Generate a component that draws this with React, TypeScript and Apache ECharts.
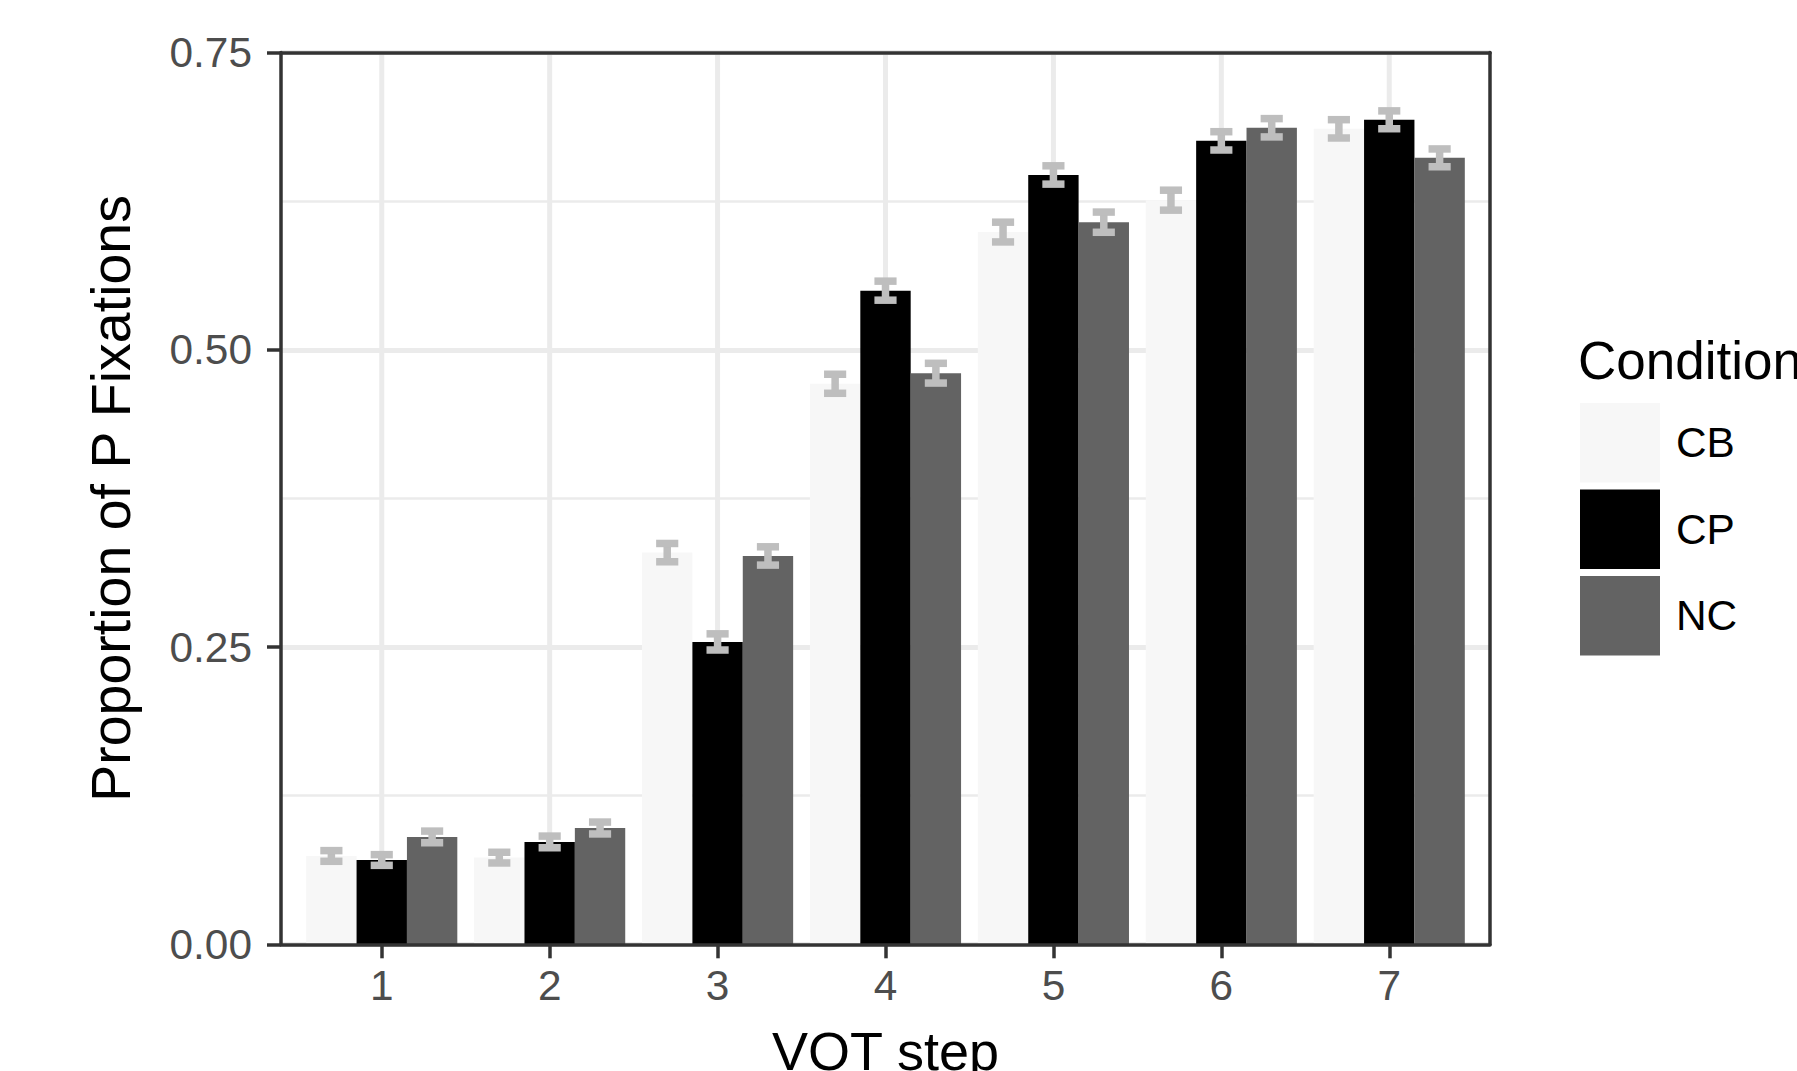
import React, { useEffect, useRef } from "react";
import * as echarts from "echarts";

const steps = [1, 2, 3, 4, 5, 6, 7];
const conditions = ["CB", "CP", "NC"];
const cbMean = [0.0743, 0.0729, 0.3294, 0.4714, 0.599, 0.6258, 0.6858];
const cpMean = [0.0709, 0.0861, 0.2543, 0.5497, 0.647, 0.6757, 0.6934];
const ncMean = [0.0903, 0.0978, 0.3266, 0.4803, 0.6073, 0.6867, 0.6614];
const cbSE = [0.0045, 0.0045, 0.0077, 0.008, 0.0083, 0.0084, 0.0077];
const cpSE = [0.0045, 0.0049, 0.0068, 0.008, 0.0077, 0.0077, 0.0075];
const ncSE = [0.0049, 0.005, 0.0077, 0.0083, 0.0085, 0.0077, 0.0075];
const yTicks = [0, 0.25, 0.5, 0.75];

const FONT = '"Liberation Sans", Arial, Helvetica, sans-serif';
const barColors = ["#f7f7f7", "#000000", "#636363"];
const errColor = "#bebebe";
const dodge = 0.3;
const errHalfWidth = 0.066;

function makeBarSeries(name: string, means: number[], ses: number[], idx: number, color: string) {
  return {
    type: "custom",
    name,
    xAxisIndex: 0,
    yAxisIndex: 0,
    z: 3,
    itemStyle: { color },
    encode: { x: 0, y: 1 },
    data: steps.map((s, i) => [s, means[i], ses[i]]),
    renderItem: (params: any, api: any) => {
      const x = api.value(0);
      const v = api.value(1);
      const se = api.value(2);
      const c = x + (idx - 1) * dodge;
      const p0 = api.coord([c - dodge / 2, v]);
      const p1 = api.coord([c + dodge / 2, 0]);
      const cx = api.coord([c, 0])[0];
      const capL = api.coord([c - errHalfWidth, 0])[0];
      const capR = api.coord([c + errHalfWidth, 0])[0];
      const yHi = api.coord([c, v + se])[1];
      const yLo = api.coord([c, v - se])[1];
      const eb = { stroke: errColor, lineWidth: 7.5, lineCap: "butt" };
      return {
        type: "group",
        children: [
          {
            type: "rect",
            shape: { x: p0[0], y: p0[1], width: p1[0] - p0[0], height: p1[1] - p0[1] },
            style: { fill: color },
          },
          { type: "line", shape: { x1: cx, y1: yHi, x2: cx, y2: yLo }, style: eb },
          { type: "line", shape: { x1: capL, y1: yHi, x2: capR, y2: yHi }, style: eb },
          { type: "line", shape: { x1: capL, y1: yLo, x2: capR, y2: yLo }, style: eb },
        ],
      };
    },
  };
}

export default function App() {
  const ref = useRef<HTMLDivElement>(null);
  useEffect(() => {
    if (!ref.current) return;
    const chart = echarts.init(ref.current, undefined, { renderer: "svg" });
    const yMin = yTicks[0];
    const yMax = yTicks[yTicks.length - 1];
    const borderLine = { color: "#333333", width: 3.5 };
    chart.setOption({
      animation: false,
      backgroundColor: "#ffffff",
      textStyle: { fontFamily: FONT },
      grid: {
        left: 281,
        right: 307,
        top: 52.5,
        bottom: 126.7,
        containLabel: false,
        outerBoundsMode: "none",
      },
      legend: {
        orient: "vertical",
        left: 1580,
        top: 403,
        padding: 0,
        itemWidth: 80,
        itemHeight: 79.5,
        itemGap: 7,
        icon: "rect",
        data: conditions,
        selectedMode: false,
        itemStyle: { borderWidth: 0 },
        textStyle: { fontSize: 42.4, color: "#000000", fontFamily: FONT, padding: [0, 0, 0, 11] },
      },
      graphic: [
        {
          type: "text",
          left: 1578,
          top: 334,
          style: { text: "Condition", fontSize: 53, fill: "#000000", fontFamily: FONT },
        },
      ],
      xAxis: [
        {
          type: "value",
          min: 0.4,
          max: 7.6,
          position: "bottom",
          z: 10,
          axisLine: { show: true, onZero: false, lineStyle: borderLine },
          axisTick: { show: true, length: 14, lineStyle: borderLine, customValues: steps },
          axisLabel: {
            show: true,
            customValues: steps,
            fontSize: 42.4,
            color: "#4d4d4d",
            margin: 20,
            fontFamily: FONT,
          },
          splitLine: { show: false },
          name: "VOT step",
          nameLocation: "middle",
          nameGap: 80,
          nameTextStyle: { fontSize: 54, color: "#000000", fontFamily: FONT },
        },
        {
          type: "value",
          min: 0.4,
          max: 7.6,
          position: "top",
          z: 10,
          axisLine: { show: true, onZero: false, lineStyle: borderLine },
          axisTick: { show: false },
          axisLabel: { show: false },
          splitLine: { show: false },
        },
      ],
      yAxis: [
        {
          type: "value",
          min: yMin,
          max: yMax,
          interval: 0.25,
          position: "left",
          z: 0,
          axisLine: { show: false },
          axisTick: { show: false },
          axisLabel: { show: false },
          splitLine: { show: true, lineStyle: { color: "#ebebeb", width: 5 } },
          minorTick: { show: false, splitNumber: 2 },
          minorSplitLine: { show: true, lineStyle: { color: "#ebebeb", width: 2.7 } },
        },
        {
          type: "value",
          min: yMin,
          max: yMax,
          interval: 0.25,
          position: "left",
          z: 10,
          axisLine: { show: true, onZero: false, lineStyle: borderLine },
          axisTick: { show: true, length: 14, lineStyle: borderLine },
          axisLabel: {
            show: true,
            formatter: (v: number) => v.toFixed(2),
            fontSize: 42.4,
            color: "#4d4d4d",
            margin: 29,
            fontFamily: FONT,
          },
          splitLine: { show: false },
          name: "Proportion of P Fixations",
          nameLocation: "middle",
          nameGap: 142,
          nameTextStyle: { fontSize: 55.5, color: "#000000", fontFamily: FONT },
        },
        {
          type: "value",
          min: yMin,
          max: yMax,
          interval: 0.25,
          position: "right",
          z: 10,
          axisLine: { show: true, onZero: false, lineStyle: borderLine },
          axisTick: { show: false },
          axisLabel: { show: false },
          splitLine: { show: false },
        },
      ],
      series: [
        {
          type: "custom",
          name: "vgrid",
          xAxisIndex: 0,
          yAxisIndex: 0,
          z: 1,
          silent: true,
          encode: { x: 0 },
          data: steps.map((s) => [s]),
          renderItem: (params: any, api: any) => {
            const x = api.value(0);
            const a = api.coord([x, yMin]);
            const b = api.coord([x, yMax]);
            return {
              type: "line",
              shape: { x1: a[0], y1: a[1], x2: b[0], y2: b[1] },
              style: { stroke: "#ebebeb", lineWidth: 5 },
            };
          },
        },
        makeBarSeries("CB", cbMean, cbSE, 0, barColors[0]),
        makeBarSeries("CP", cpMean, cpSE, 1, barColors[1]),
        makeBarSeries("NC", ncMean, ncSE, 2, barColors[2]),
      ],
    });
    return () => chart.dispose();
  }, []);
  return (
    <div
      ref={ref}
      style={{ position: "absolute", left: 0, top: 0, width: 1797, height: 1071, background: "#fff" }}
    />
  );
}
